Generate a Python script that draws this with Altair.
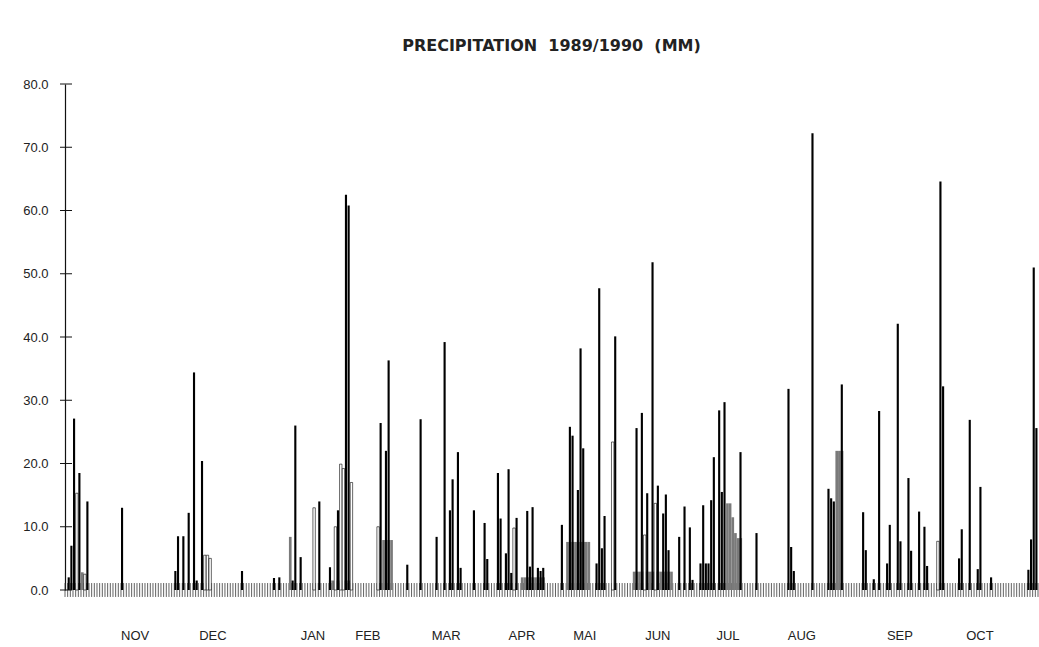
import altair as alt
import pandas as pd

# Daily precipitation (mm), hydrological year Nov 1989 - Oct 1990, day 0 = 1 Nov.
# Three overlaid gauge records: solid black, grey and open (outlined) bars.
black_day = [1, 2, 3, 5, 8, 21, 41, 42, 44, 46, 48, 49, 51, 66, 78, 80, 85, 86, 88,
             95, 99, 102, 105, 106, 118, 120, 121, 128, 133, 139, 142, 144, 145, 147,
             148, 153, 157, 158, 162, 163, 165, 166, 167, 169, 173, 174, 175, 177,
             178, 179, 186, 189, 190, 192, 193, 194, 199, 200, 201, 202, 206, 214,
             216, 218, 220, 222, 224, 225, 226, 230, 232, 234, 235, 238, 239, 240,
             241, 242, 243, 245, 246, 247, 253, 259, 271, 272, 273, 280, 286, 287,
             288, 291, 299, 300, 303, 305, 308, 309, 312, 313, 316, 317, 320, 322,
             323, 328, 329, 335, 336, 339, 342, 343, 347, 361, 362, 363, 364]
black_mm = [2.0, 7.0, 27.1, 18.5, 14.0, 13.0, 3.0, 8.5, 8.5, 12.2, 34.4, 1.5, 20.4, 3.0,
            1.9, 2.0, 1.5, 26.0, 5.2, 14.0, 3.6, 12.6, 62.5, 60.8, 26.4, 22.0, 36.3,
            4.0, 27.0, 8.4, 39.2, 12.6, 17.5, 21.8, 3.5, 12.6, 10.6, 4.9, 18.5, 11.3,
            5.8, 19.1, 2.7, 11.4, 12.5, 3.7, 13.1, 3.5, 3.0, 3.5, 10.3, 25.8, 24.4,
            15.8, 38.2, 22.4, 4.2, 47.7, 6.6, 11.7, 40.1, 25.6, 28.0, 15.3, 51.8,
            16.5, 12.1, 15.1, 6.3, 8.4, 13.2, 9.9, 1.6, 4.2, 13.4, 4.2, 4.2, 14.2,
            21.0, 28.4, 15.5, 29.7, 21.8, 9.0, 31.8, 6.8, 3.0, 72.2, 16.0, 14.5, 14.0,
            32.5, 12.3, 6.3, 1.7, 28.3, 4.2, 10.3, 42.1, 7.7, 17.7, 6.2, 12.4, 10.0,
            3.8, 64.6, 32.2, 5.0, 9.6, 26.9, 3.3, 16.3, 2.0, 3.2, 8.0, 51.0, 25.6]

open_day = [4, 7, 52, 53, 54, 93, 101, 103, 104, 107, 117, 168, 205, 217, 221, 327]
open_mm = [15.3, 2.5, 5.5, 5.5, 5.0, 13.0, 10.0, 19.9, 19.2, 17.0, 10.0, 9.8, 23.4,
           8.7, 13.7, 7.7]

grey_day = [6, 84, 99, 100, 101, 102, 103, 104, 105, 106, 119, 120, 121, 122,
            171, 172, 173, 174, 175, 176, 177, 178, 179,
            188, 189, 190, 191, 192, 193, 194, 195, 196,
            213, 214, 215, 216, 217, 218, 219, 220, 221, 222, 223, 224, 225, 226, 227,
            248, 249, 250, 251, 252, 253, 289, 290, 291]
grey_mm = [2.8, 8.4, 1.5, 1.5, 1.5, 1.5, 1.5, 1.5, 1.5, 1.5, 7.9, 7.9, 7.9, 7.9,
           2.0, 2.0, 2.0, 2.0, 2.0, 2.0, 2.0, 2.0, 2.0,
           7.6, 7.6, 7.6, 7.6, 7.6, 7.6, 7.6, 7.6, 7.6,
           2.9, 2.9, 2.9, 2.9, 2.9, 2.9, 2.9, 2.9, 2.9, 2.9, 2.9, 2.9, 2.9, 2.9, 2.9,
           13.7, 13.7, 11.5, 9.0, 8.2, 8.2, 22.0, 22.0, 22.0]

month_names = ["NOV", "DEC", "JAN", "FEB", "MAR", "APR", "MAI", "JUN", "JUL", "AUG",
               "SEP", "OCT"]
month_pos = [26.3, 55.5, 93.0, 113.6, 143.0, 171.4, 195.0, 222.4, 248.7, 276.4,
             313.2, 343.2]

y_ticks = [0, 10, 20, 30, 40, 50, 60, 70, 80]
n_days = 365

FONT = "Liberation Sans"


def bars(days, mm, span):
    return pd.DataFrame({"day": days, "mm": mm, "end": [d + span for d in days]})


x_scale = alt.Scale(domain=[0, n_days], nice=False, zero=False, padding=0)
y_scale = alt.Scale(domain=[0, 80], nice=False, padding=0)

y_axis = alt.Axis(values=y_ticks, format=".1f", ticks=False, grid=False,
                  domainColor="#111111", domainWidth=1.2, labelPadding=17,
                  labelFont=FONT, labelFontSize=13, labelColor="#222222",
                  title=None)

# one short stroke per day straddling the zero line
day_strokes = alt.Chart(pd.DataFrame({"day": list(range(n_days + 1))})).mark_rule(
    color="#3a3a3a", strokeWidth=0.8
).encode(
    x=alt.X("day:Q", scale=x_scale, axis=None),
    y=alt.datum(1.1, scale=y_scale, axis=y_axis),
    y2=alt.datum(-1.1),
)

grey = alt.Chart(bars(grey_day, grey_mm, 1.0)).mark_bar(color="#7a7a7a").encode(
    x="day:Q", x2="end:Q", y="mm:Q", y2=alt.datum(0)
)

outlined = alt.Chart(bars(open_day, open_mm, 0.9)).mark_bar(
    fill="white", stroke="black", strokeWidth=0.6
).encode(x="day:Q", x2="end:Q", y="mm:Q", y2=alt.datum(0))

solid = alt.Chart(bars(black_day, black_mm, 0.8)).mark_bar(color="black").encode(
    x="day:Q", x2="end:Q", y="mm:Q", y2=alt.datum(0)
)

tick_marks = alt.Chart(pd.DataFrame({"v": y_ticks})).mark_rule(
    color="#111111", strokeWidth=1
).encode(y="v:Q", x=alt.value(-5), x2=alt.value(7))

months = alt.Chart(pd.DataFrame({"m": month_names, "pos": month_pos})).mark_text(
    font=FONT, fontSize=13, color="#222222"
).encode(x="pos:Q", y=alt.value(552), text="m:N")

title_text = "PRECIPITATION\u00a0\u00a01989/1990\u00a0\u00a0(MM)"

chart = alt.layer(day_strokes, grey, outlined, solid, tick_marks, months).properties(
    width=973,
    height=506,
    autosize=alt.AutoSizeParams(type="none"),
    padding={"left": 65, "top": 84, "right": 1, "bottom": 57},
    title=alt.Title(title_text, font="DejaVu Sans", fontSize=16,
                    fontWeight="bold", color="#222222", offset=8,
                    baseline="bottom", anchor="middle"),
).configure_view(stroke=None)

chart.save("out.html", embed_options={"renderer": "svg", "actions": False})
